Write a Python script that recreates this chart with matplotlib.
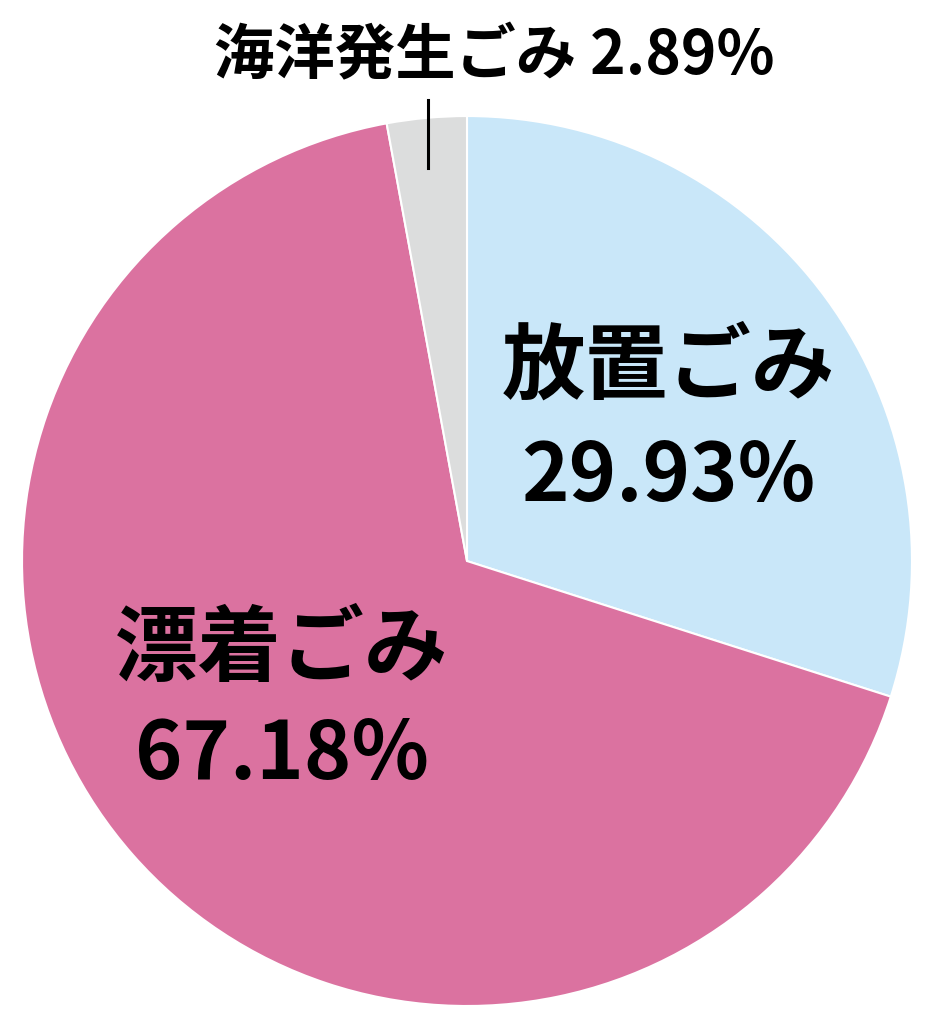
import matplotlib.pyplot as plt

plt.rcParams['font.family'] = ['Noto Sans CJK JP', 'DejaVu Sans']

labels = ["放置ごみ", "漂着ごみ", "海洋発生ごみ"]
shares = [29.93, 67.18, 2.89]
colors = ["#C9E7F9", "#DB72A0", "#DCDDDD"]

fig = plt.figure(figsize=(9.42, 10.24), dpi=100)
ax = fig.add_axes([0.02335, 0.01758, 0.9448, 0.8691])
ax.pie(shares, colors=colors, startangle=90, counterclock=False,
       wedgeprops=dict(edgecolor="white", linewidth=1.5))
ax.set_xlim(-1, 1)
ax.set_ylim(-1, 1)
ax.set_aspect("equal")
ax.axis("off")

# labels inside the big slices
ax.text(0.452, 0.434, labels[0], ha="center", va="center", fontsize=60, fontweight="bold")
ax.text(0.452, 0.187, f"{shares[0]:.2f}%", ha="center", va="center", fontsize=58, fontweight="bold")
ax.text(-0.416, -0.2, labels[1], ha="center", va="center", fontsize=60, fontweight="bold")
ax.text(-0.416, -0.436, f"{shares[1]:.2f}%", ha="center", va="center", fontsize=58, fontweight="bold")

# small slice label with leader line
ax.text(0.061, 1.133, f"{labels[2]} {shares[2]:.2f}%", ha="center", va="center",
        fontsize=43.5, fontweight="bold", clip_on=False)
ax.plot([-0.088, -0.088], [1.036, 0.883], color="black", linewidth=2.2, clip_on=False)

fig.savefig("out.png", dpi=100)
